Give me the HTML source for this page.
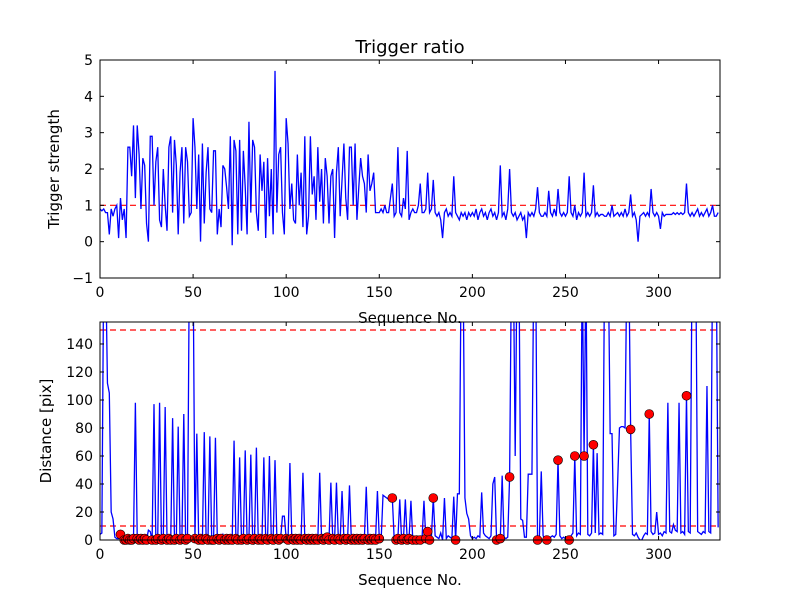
<!DOCTYPE html>
<html><head><meta charset="utf-8"><style>
body{margin:0;background:#fff;}
svg text{font-family:"DejaVu Sans","Liberation Sans",sans-serif;fill:#000;}
</style></head><body>
<svg id="c" width="800" height="600" xmlns="http://www.w3.org/2000/svg">
<defs>
<clipPath id="clipTop"><rect x="100" y="60" width="620" height="218"/></clipPath>
<clipPath id="clipBot"><rect x="100" y="322" width="620" height="218"/></clipPath>
</defs>
<text x="410" y="53" font-size="18" text-anchor="middle">Trigger ratio</text>
<text x="410" y="323" font-size="15" text-anchor="middle">Sequence No.</text>
<text x="410" y="585" font-size="15" text-anchor="middle">Sequence No.</text>
<text transform="translate(59,169) rotate(-90)" font-size="15" text-anchor="middle">Trigger strength</text>
<text transform="translate(51,431) rotate(-90)" font-size="15" text-anchor="middle">Distance [pix]</text>
<g id="gTop"></g><g id="gBot"></g>
</svg>
<script>
const xTicks=[0,50,100,150,200,250,300];
const topYTicks=[-1,0,1,2,3,4,5];
const botYTicks=[0,20,40,60,80,100,120,140];
const topThresh=[1];
const botThresh=[10,150];
const strength=[0.9,0.85,0.9,0.8,0.8,0.2,0.9,0.7,0.9,1.0,
0.1,1.2,0.6,0.9,0.1,2.6,2.6,1.8,3.2,1.2,
3.2,2.4,0.9,2.3,2.1,0.5,0.0,2.9,2.9,1.0,
2.2,2.6,0.6,0.4,2.0,1.0,0.3,2.6,2.9,0.8,
2.8,2.1,0.2,1.9,2.6,0.5,2.6,2.2,0.7,0.8,
3.4,2.6,0.9,2.4,0.0,2.7,0.5,1.9,2.6,0.9,
0.8,2.5,2.5,0.2,0.9,0.4,2.1,2.0,1.5,0.9,
2.9,-0.1,2.8,2.5,0.2,2.8,0.3,2.5,1.5,0.2,
3.3,0.8,2.8,2.6,0.8,0.3,2.4,1.4,2.2,0.1,
2.3,0.7,2.0,0.2,4.7,0.8,2.4,2.6,0.8,0.2,
3.4,2.7,0.9,1.6,0.6,0.5,2.4,1.0,1.9,0.4,
2.9,0.2,0.7,2.9,1.3,1.8,0.6,2.6,1.1,2.0,
0.5,2.3,1.8,0.5,1.8,2.0,0.1,1.9,2.6,0.7,
1.7,2.7,1.2,0.6,2.6,2.6,1.0,2.7,0.6,1.5,
2.3,1.8,1.6,0.8,2.4,1.4,1.6,1.9,0.8,0.8,
0.8,0.9,0.8,1.0,0.8,0.8,1.2,1.6,0.7,0.8,
2.6,0.8,0.7,1.2,0.9,2.5,0.6,0.8,0.9,0.8,
0.8,1.0,1.6,0.8,0.8,0.9,1.9,0.8,0.9,1.7,
0.8,0.7,0.8,0.6,0.1,0.8,0.9,0.7,0.8,0.7,
1.8,0.8,0.7,0.6,0.8,0.7,0.8,0.6,0.8,0.7,
0.8,0.7,0.9,0.6,0.8,0.9,0.7,0.8,0.6,0.8,
0.9,0.7,0.8,0.6,0.8,2.1,0.7,0.8,0.6,0.9,
2.0,0.8,0.7,0.8,0.6,0.7,0.8,0.6,0.7,0.1,
0.8,0.7,0.8,0.7,0.9,1.5,0.8,0.7,0.7,0.8,
0.7,1.4,0.8,0.7,0.9,0.7,1.45,0.8,0.7,0.8,
0.7,0.8,1.8,0.8,0.7,1.0,0.6,0.8,0.7,0.8,
1.9,0.7,0.8,0.7,0.8,1.55,0.7,0.8,0.7,0.75,
0.75,0.7,0.7,0.8,0.7,1.0,0.7,0.75,0.8,0.7,
0.8,0.7,0.9,0.7,0.8,1.3,0.7,0.8,0.6,0.0,
0.7,0.75,0.8,0.7,0.8,0.7,1.45,0.8,0.7,0.8,
0.7,0.35,0.8,0.7,0.75,0.75,0.75,0.75,0.8,0.75,
0.8,0.75,0.8,0.75,0.8,1.6,0.8,0.7,0.8,0.7,
0.8,0.9,0.7,0.8,0.7,0.8,0.9,0.7,0.8,1.0,
0.7,0.7,0.8];
const distance=[4,5,200,200,112,105,20,15,2,1,
1,4,1,0,0,1,0,0,1,98,
1,0,1,0,1,0,7,6,0,97,
0,1,98,0,1,95,0,1,0,87,
0,1,81,0,1,90,0,1,200,200,
200,1,76,0,1,0,77,1,0,74,
0,0,73,1,0,1,4,0,1,0,
1,0,71,1,0,59,0,1,64,0,
1,61,0,1,66,0,1,0,59,1,
0,60,1,0,57,1,0,1,17,17,
1,0,55,1,0,1,0,1,0,48,
1,0,1,0,1,0,1,0,48,1,
0,1,2,0,41,1,0,41,1,0,
35,1,0,1,39,0,1,0,1,0,
1,0,1,38,0,1,0,1,0,35,
1,0,32,31,30,29,28,30,1,0,
1,29,0,1,29,0,1,28,0,1,
0,1,0,2,28,1,6,0,2,30,
3,2,1,5,0,30,1,3,2,1,
31,0,33,33,200,200,30,19,15,3,
1,2,1,3,2,34,5,3,2,1,
3,40,45,0,2,1,46,2,1,2,
45,200,200,60,200,200,15,14,2,2,
47,47,47,200,200,0,2,49,3,1,
0,1,2,3,2,4,57,3,1,2,
1,2,0,3,5,60,3,5,4,200,
60,200,4,3,5,68,5,62,4,5,
4,200,200,200,76,76,3,4,40,80,
81,81,80,200,200,79,4,3,5,2,
0,0,3,5,4,90,6,4,5,20,
4,5,3,6,5,98,6,5,11,7,
6,98,5,6,4,103,6,5,200,200,
200,6,5,4,6,5,110,6,5,200,
200,200,9];
const markerIdx=[11,13,14,15,16,17,18,20,21,22,23,24,25,28,30,31,33,34,36,37,38,40,41,43,44,46,47,51,53,54,55,57,58,60,61,63,64,65,67,68,69,70,71,73,74,76,77,79,80,82,83,85,86,87,89,90,92,93,95,96,97,100,101,103,104,105,106,107,108,110,111,112,113,114,115,116,117,119,120,121,122,123,125,126,128,129,131,132,133,135,136,137,138,139,140,141,142,144,145,146,147,148,150,157,159,160,162,163,165,166,168,170,172,175,176,177,179,191,213,215,220,235,240,246,252,255,260,265,285,295,315];

const NS='http://www.w3.org/2000/svg';
const X0=100,X1=720,XMAX=333;
const sx=v=>X0+v*(X1-X0)/XMAX;
const syTop=v=>60+(5-v)*218/6;
const syBot=v=>540-v*218/155.7;
function mk(tag,attrs,parent){const e=document.createElementNS(NS,tag);for(const k in attrs)e.setAttribute(k,attrs[k]);parent.appendChild(e);return e;}
function axes(g,y0,y1,yt,sy,fmt,prefix){
  xTicks.forEach(t=>{const x=sx(t);
    const a=mk('line',{x1:x,x2:x,y1:y1,y2:y1-4,stroke:'#000'},g);
    
    
    mk('line',{x1:x,x2:x,y1:y0,y2:y0+4,stroke:'#000'},g);
    const tx=mk('text',{x:x,y:y1+19,'font-size':14,'text-anchor':'middle'},g);tx.textContent=t;
    
    });
  yt.forEach(t=>{const y=sy(t);
    const a=mk('line',{x1:X0,x2:X0+4,y1:y,y2:y,stroke:'#000'},g);
    
    
    mk('line',{x1:X1,x2:X1-4,y1:y,y2:y,stroke:'#000'},g);
    const tx=mk('text',{x:X0-7,y:y+5,'font-size':14,'text-anchor':'end'},g);tx.textContent=fmt(t);
    
    });
}
function frame(g,y0,y1,prefix){const r=mk('rect',{x:X0,y:y0,width:X1-X0,height:y1-y0,fill:'none',stroke:'#000','stroke-width':1},g);
  
  }
// top
const gT=document.getElementById('gTop');
const cT=mk('g',{'clip-path':'url(#clipTop)'},gT);
topThresh.forEach(v=>{const l=mk('line',{x1:X0,x2:X1,y1:syTop(v),y2:syTop(v),stroke:'#f00','stroke-width':1.2,'stroke-dasharray':'6,4'},cT);
  
  });
const pT=mk('polyline',{points:strength.map((v,i)=>sx(i)+','+syTop(v)).join(' '),fill:'none',stroke:'#00f','stroke-width':1.3},cT);


axes(gT,60,278,topYTicks,syTop,t=>t<0?'\u22121':String(t),'top');
frame(gT,60,278,'top');
// bottom
const gB=document.getElementById('gBot');
const cB=mk('g',{'clip-path':'url(#clipBot)'},gB);
botThresh.forEach(v=>{const l=mk('line',{x1:X0,x2:X1,y1:syBot(v),y2:syBot(v),stroke:'#f00','stroke-width':1.2,'stroke-dasharray':'6,4'},cB);
  
  });
const pB=mk('polyline',{points:distance.map((v,i)=>sx(i)+','+syBot(v)).join(' '),fill:'none',stroke:'#00f','stroke-width':1.3},cB);


const gM=mk('g',{},gB);
markerIdx.forEach(i=>{const c=mk('circle',{cx:sx(i),cy:syBot(distance[i]),r:4.5,fill:'#f00',stroke:'#000','stroke-width':0.6},gM);
  
  });
axes(gB,322,540,botYTicks,syBot,t=>String(t),'bottom');
frame(gB,322,540,'bottom');
</script>
</body></html>
